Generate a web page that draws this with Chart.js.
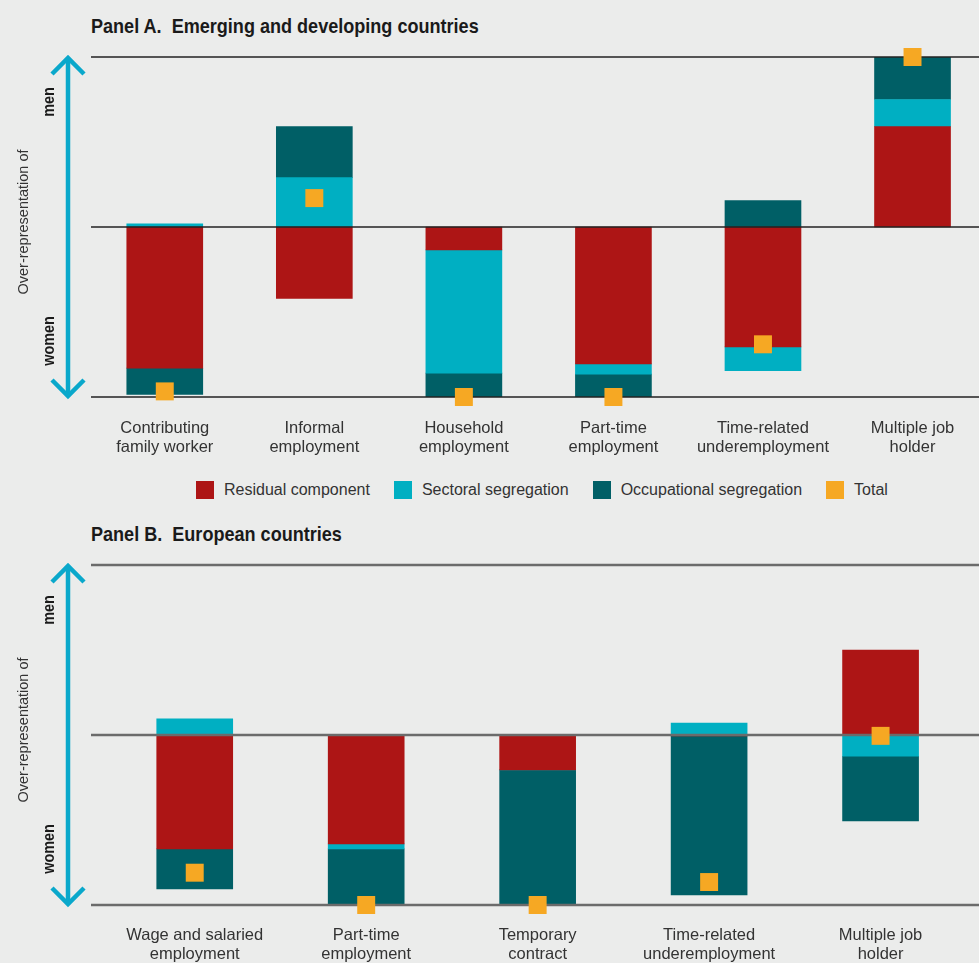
<!DOCTYPE html>
<html>
<head>
<meta charset="utf-8">
<script src="https://cdn.jsdelivr.net/npm/chart.js@4.4.0/dist/chart.umd.min.js"></script>
<style>
html, body { margin: 0; padding: 0; background: #ebeceb; overflow: hidden; }
body { width: 979px; height: 963px; position: relative; font-family: "Liberation Sans", Arial, sans-serif; color: #333; }
.title { position: absolute; left: 91px; font-family: "Liberation Sans", Arial, sans-serif; font-weight: bold; font-size: 21px; color: #1a1a1a; white-space: pre; transform: scaleX(0.86); transform-origin: left center; }
#titleA { top: 14px; }
#titleB { top: 522px; }
.wrap { position: absolute; left: 0; }
#wrapA { top: 40px; }
#wrapB { top: 548px; }
.legend { position: absolute; top: 481px; left: 196px; display: flex; font-size: 16px; line-height: 18px; color: #333; }
.legend .item { display: flex; align-items: center; margin-right: 24px; }
.legend .box { width: 18px; height: 18px; margin-right: 10px; }
</style>
</head>
<body>
<div class="title" id="titleA">Panel A.  Emerging and developing countries</div>
<div class="wrap" id="wrapA"><canvas id="chartA" width="1000" height="415"></canvas></div>
<div class="legend" id="legend"></div>
<div class="title" id="titleB">Panel B.  European countries</div>
<div class="wrap" id="wrapB"><canvas id="chartB" width="979" height="415"></canvas></div>

<script>
// Цвета серий
const colors = {
    residual: '#ad1515',
    sectoral: '#00afc2',
    occupational: '#005f66',
    total: '#f6a823'
};

const seriesNames = ['Residual component', 'Sectoral segregation', 'Occupational segregation', 'Total'];
const sideText = { top: 'men', bottom: 'women', axis: 'Over-representation of' };

// Panel A
const categoriesA = [
    ['Contributing', 'family worker'],
    ['Informal', 'employment'],
    ['Household', 'employment'],
    ['Part-time', 'employment'],
    ['Time-related', 'underemployment'],
    ['Multiple job', 'holder']
];
const residualA = [-0.83, -0.42, -0.135, -0.805, -0.705, 0.59];
const sectoralA = [0.018, 0.29, -0.725, -0.06, -0.14, 0.16];
const occupationalA = [-0.155, 0.30, -0.14, -0.135, 0.155, 0.25];
const totalA = [-0.967, 0.17, -1.0, -1.0, -0.69, 1.0];

// Panel B
const categoriesB = [
    ['Wage and salaried', 'employment'],
    ['Part-time', 'employment'],
    ['Temporary', 'contract'],
    ['Time-related', 'underemployment'],
    ['Multiple job', 'holder']
];
const residualB = [-0.67, -0.64, -0.205, -0.006, 0.50];
const sectoralB = [0.095, -0.03, 0, 0.07, -0.125];
const occupationalB = [-0.235, -0.335, -0.795, -0.935, -0.38];
const totalB = [-0.81, -1.0, -1.0, -0.865, -0.005];

// Линии и стрелка слева
const framePlugin = {
    id: 'frame',
    beforeDatasetDraw(chart, args, opts) {
        if (args.meta.type !== 'line') return;
        const ctx = chart.ctx;
        const y = chart.scales.y;
        ctx.save();
        ctx.strokeStyle = opts.lineColor;
        ctx.lineWidth = opts.lineWidth;
        [y.max, 0, y.min].forEach(v => {
            const py = y.getPixelForValue(v);
            ctx.beginPath();
            ctx.moveTo(91, py);
            ctx.lineTo(chart.width, py);
            ctx.stroke();
        });
        ctx.restore();
    },
    afterDraw(chart) {
        const ctx = chart.ctx;
        const top = chart.chartArea.top;
        const bottom = chart.chartArea.bottom;
        const x = 68;
        ctx.save();
        ctx.strokeStyle = '#0aa8cb';
        ctx.lineWidth = 4.5;
        ctx.beginPath();
        ctx.moveTo(x, top + 2);
        ctx.lineTo(x, bottom - 2);
        ctx.stroke();
        ctx.beginPath();
        ctx.moveTo(x - 16, top + 17);
        ctx.lineTo(x, top + 1);
        ctx.lineTo(x + 16, top + 17);
        ctx.stroke();
        ctx.beginPath();
        ctx.moveTo(x - 16, bottom - 17);
        ctx.lineTo(x, bottom - 1);
        ctx.lineTo(x + 16, bottom - 17);
        ctx.stroke();

        ctx.fillStyle = '#1a1a1a';
        ctx.textAlign = 'center';
        ctx.textBaseline = 'middle';
        const rotText = (text, tx, ty, font, sx) => {
            ctx.save();
            ctx.translate(tx, ty);
            ctx.rotate(-Math.PI / 2);
            ctx.scale(sx, 1);
            ctx.font = font;
            ctx.fillText(text, 0, 0);
            ctx.restore();
        };
        const boldFont = 'bold 16px "Liberation Sans", Arial, sans-serif';
        rotText(sideText.top, 50, top + 45, boldFont, 0.9);
        rotText(sideText.bottom, 50, bottom - 56, boldFont, 0.9);
        ctx.fillStyle = '#333';
        rotText(sideText.axis, 24, (top + bottom) / 2 - 5, '14.5px "Liberation Sans", Arial, sans-serif', 1);
        ctx.restore();
    }
};

function makeChart(canvasId, labels, residual, sectoral, occupational, total, pad, tickPad, frameOpts) {
    const ctx = document.getElementById(canvasId).getContext('2d');
    const bar = (label, data, color) => ({
        type: 'bar', label: label, data: data, backgroundColor: color,
        barThickness: 76, order: 1
    });
    return new Chart(ctx, {
        type: 'bar',
        data: {
            labels: labels,
            datasets: [
                bar(seriesNames[0], residual, colors.residual),
                bar(seriesNames[1], sectoral, colors.sectoral),
                bar(seriesNames[2], occupational, colors.occupational),
                {
                    type: 'line', label: seriesNames[3], data: total, stack: 'total',
                    showLine: false, pointStyle: 'rect', pointRadius: 12.7,
                    pointBackgroundColor: colors.total, pointBorderWidth: 0,
                    order: 0, clip: false
                }
            ]
        },
        options: {
            responsive: false,
            animation: false,
            layout: { padding: pad },
            plugins: {
                legend: { display: false },
                tooltip: { enabled: false },
                frame: frameOpts
            },
            scales: {
                x: {
                    stacked: true,
                    grid: { display: false, drawTicks: false },
                    border: { display: false },
                    ticks: {
                        color: '#333',
                        padding: tickPad,
                        maxRotation: 0,
                        font: { family: '"Liberation Sans", Arial, sans-serif', size: 16.5, lineHeight: 1.15 }
                    },
                    afterFit: scale => { scale.height = 58; }
                },
                y: {
                    stacked: true,
                    min: -1,
                    max: 1,
                    display: false
                }
            }
        },
        plugins: [framePlugin]
    });
}

// Легенда
const legendEl = document.getElementById('legend');
[colors.residual, colors.sectoral, colors.occupational, colors.total].forEach((c, i) => {
    const item = document.createElement('div');
    item.className = 'item';
    item.innerHTML = `<span class="box" style="background:${c}"></span><span>${seriesNames[i]}</span>`;
    legendEl.appendChild(item);
});

makeChart('chartA', categoriesA, residualA, sectoralA, occupationalA, totalA,
    { top: 17, left: 90, right: 12, bottom: 0 }, 22, { lineColor: '#222', lineWidth: 1.5 });
makeChart('chartB', categoriesB, residualB, sectoralB, occupationalB, totalB,
    { top: 17, left: 109, right: 10, bottom: 0 }, 21, { lineColor: '#6b6b6b', lineWidth: 2.5 });
</script>
</body>
</html>
